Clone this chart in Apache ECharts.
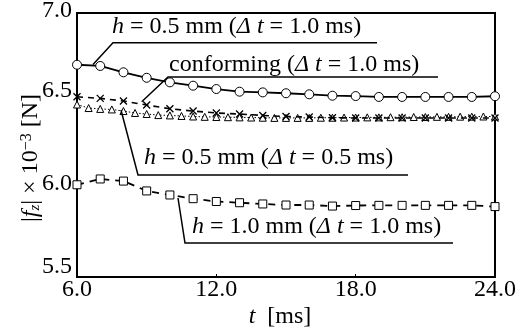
<!DOCTYPE html>
<html><head><meta charset="utf-8">
<script src="https://cdn.jsdelivr.net/npm/echarts@6/dist/echarts.min.js"></script>
<style>html,body{margin:0;padding:0;background:#fff}#c{width:515px;height:327px}</style>
</head><body><div id="c"></div>
<script>
// time values [ms]
const tStep1 = [6,7,8,9,10,11,12,13,14,15,16,17,18,19,20,21,22,23,24];
const tStep05 = [6,6.5,7,7.5,8,8.5,9,9.5,10,10.5,11,11.5,12,12.5,13,13.5,14,14.5,15,15.5,16,16.5,17,17.5,18,18.5,19,19.5,20,20.5,21,21.5,22,22.5,23,23.5,24];
// |fz| x 1e-3 [N]
const h05dt10 = [6.706,6.699,6.663,6.632,6.606,6.587,6.568,6.553,6.549,6.544,6.538,6.530,6.528,6.523,6.523,6.523,6.523,6.523,6.527];
const h05dt05 = [6.524,6.515,6.500,6.477,6.456,6.443,6.432,6.426,6.418,6.412,6.409,6.405,6.403,6.403,6.403,6.403,6.403,6.403,6.403];
const conforming = [6.480,6.460,6.455,6.452,6.443,6.432,6.426,6.420,6.418,6.415,6.412,6.410,6.409,6.408,6.407,6.406,6.405,6.404,6.404,6.404,6.404,6.405,6.405,6.406,6.406,6.407,6.407,6.408,6.408,6.409,6.409,6.410,6.410,6.411,6.411,6.412,6.412];
const h10dt10 = [6.024,6.057,6.045,5.989,5.966,5.945,5.929,5.922,5.915,5.909,5.909,5.903,5.906,5.907,5.907,5.907,5.907,5.907,5.900];
const xTicks = [6, 12, 18, 24];
const yTicks = [5.5, 6.0, 6.5, 7.0];
const labels = {
  a: '{i|h} = 0.5 mm ({i|Δ t} = 1.0 ms)',
  b: 'conforming ({i|Δ t} = 1.0 ms)',
  c: '{i|h} = 0.5 mm ({i|Δ t} = 0.5 ms)',
  d: '{i|h} = 1.0 mm ({i|Δ t} = 1.0 ms)'
};

const FF = '"Liberation Serif", "Times New Roman", serif';
const FS = 24;
const pair = (xs, ys) => xs.map((x, i) => [x, ys[i]]);
const chart = echarts.init(document.getElementById('c'), null, {renderer: 'canvas'});
const richI = {i: {fontStyle: 'italic', fontFamily: FF, fontSize: FS, color: '#000'}};
// small vertical nudges of the y tick labels (as in the reference)
const yLabShift = {'7.0': 4, '6.5': 20, '6.0': 10, '5.5': 20};
const yRich = {};
Object.keys(yLabShift).forEach((k, i) => {
  yRich['y' + i] = {fontFamily: FF, fontSize: FS, color: '#000', padding: [0, 0, yLabShift[k], 0]};
});

function annot(text, tx, ty, pts) {
  return [
    {type: 'polyline', shape: {points: pts}, style: {stroke: '#000', lineWidth: 1.5, fill: null}, z: 100},
    {type: 'text', x: tx, y: ty, style: {text: text, rich: richI, fontFamily: FF, fontSize: FS, fill: '#000', verticalAlign: 'middle', align: 'left'}, z: 100}
  ];
}

const option = {
  backgroundColor: '#fff',
  animation: false,
  grid: {left: 77, right: 20, top: 13, bottom: 50, containLabel: false, outerBoundsMode: 'none',
         show: true, borderColor: '#000', borderWidth: 2, backgroundColor: 'transparent'},
  xAxis: {
    type: 'value', min: xTicks[0], max: xTicks[xTicks.length - 1], interval: 6,
    name: '{i|t}  [ms]', nameLocation: 'middle', nameGap: 28, nameMoveOverlap: false,
    nameTextStyle: {fontFamily: FF, fontSize: FS, color: '#000', rich: richI, padding: [0, 12, 0, 0]},
    axisLine: {lineStyle: {color: '#000', width: 2}},
    axisTick: {inside: true, length: 3, lineStyle: {color: '#000'}},
    splitLine: {show: false},
    axisLabel: {fontFamily: FF, fontSize: FS, color: '#000', margin: 1, formatter: v => v.toFixed(1)}
  },
  yAxis: {
    type: 'value', min: yTicks[0], max: yTicks[yTicks.length - 1], interval: 0.5,
    name: '|{i|f}{sub|z}| × 10{sup|−3} [N]', nameLocation: 'middle', nameGap: 34, nameRotate: 90, nameMoveOverlap: false,
    nameTextStyle: {fontFamily: FF, fontSize: FS, color: '#000', padding: [0, 26, 0, 0], rich: {
      i: {fontStyle: 'italic', fontFamily: FF, fontSize: FS, color: '#000'},
      sub: {fontStyle: 'italic', fontFamily: FF, fontSize: 15, color: '#000', verticalAlign: 'bottom'},
      sup: {fontFamily: FF, fontSize: 16, color: '#000', verticalAlign: 'top'}
    }},
    axisLine: {lineStyle: {color: '#000', width: 2}},
    axisTick: {show: false},
    splitLine: {show: false},
    axisLabel: {fontFamily: FF, fontSize: FS, color: '#000', margin: 5, rich: yRich,
      formatter: v => { const s = v.toFixed(1); const i = Object.keys(yLabShift).indexOf(s); return '{y' + i + '|' + s + '}'; }}
  },
  series: [
    {type: 'line', data: pair(tStep05, conforming), symbol: 'triangle', symbolSize: 7,
     itemStyle: {color: '#fff', borderColor: '#000', borderWidth: 1},
     lineStyle: {color: '#000', width: 1, type: [1.5, 2]}, z: 2},
    {type: 'line', data: pair(tStep1, h05dt05), symbol: 'path://M0,0L10,10M10,0L0,10', symbolSize: 7,
     itemStyle: {color: 'transparent', borderColor: '#000', borderWidth: 1.3},
     lineStyle: {color: '#000', width: 1.6, type: [6, 5]}, z: 3},
    {type: 'line', data: pair(tStep1, h05dt10), symbol: 'circle', symbolSize: 9,
     itemStyle: {color: '#fff', borderColor: '#000', borderWidth: 1},
     lineStyle: {color: '#000', width: 1.8, type: 'solid'}, z: 4},
    {type: 'line', data: pair(tStep1, h10dt10), symbol: 'rect', symbolSize: 8,
     itemStyle: {color: '#fff', borderColor: '#000', borderWidth: 1},
     lineStyle: {color: '#000', width: 1.8, type: [7, 6]}, z: 4}
  ],
  graphic: [].concat(
    annot(labels.a, 112, 27, [[93, 64.5], [113, 42.7], [377, 42.7]]),
    annot(labels.b, 169, 65, [[141.7, 101.7], [168, 77], [438, 77]]),
    annot(labels.c, 144, 158, [[121, 110], [138, 175], [408, 175]]),
    annot(labels.d, 192, 227, [[178, 198], [185, 243], [453, 243]])
  )
};
chart.setOption(option);
</script></body></html>
